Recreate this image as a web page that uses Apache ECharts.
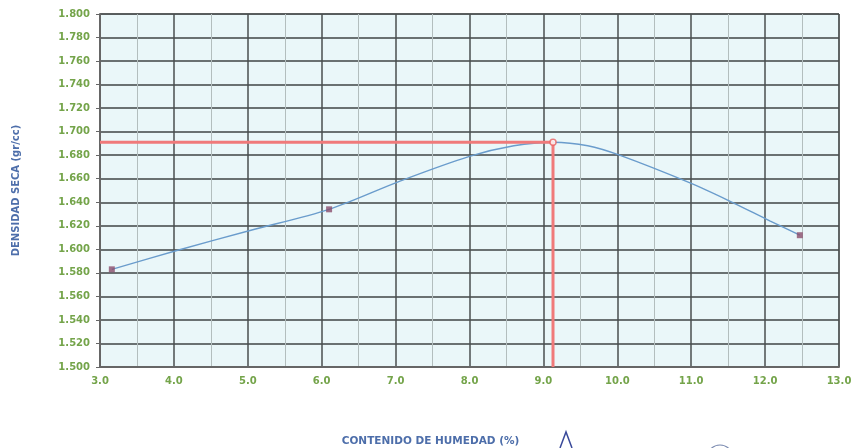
<!DOCTYPE html>
<html>
<head>
<meta charset="utf-8">
<script src="https://cdn.jsdelivr.net/npm/echarts@6/dist/echarts.min.js"></script>
<style>
html,body{margin:0;padding:0;background:#fff;}
#c{width:854px;height:448px;}
</style>
</head>
<body>
<div id="c"></div>
<script>
// Measured points
var moisture = [3.16, 6.10, 12.47];
var density = [1.583, 1.634, 1.612];
// Fitted compaction curve
var curveX = [3.16, 4.04, 5.03, 6.10, 7.06, 8.00, 8.60, 9.13, 9.60, 10.03, 11.00, 11.52, 12.07, 12.47];
var curveY = [1.583, 1.599, 1.616, 1.634, 1.658, 1.679, 1.688, 1.691, 1.688, 1.680, 1.656, 1.641, 1.624, 1.612];
// Optimum point
var optMoisture = 9.13;
var optDensity = 1.691;
// Axes
var xMin = 3, xMax = 13, xStep = 1;
var yMin = 1.5, yMax = 1.8, yStep = 0.02;
var xTitle = 'CONTENIDO DE HUMEDAD (%)';
var yTitle = 'DENSIDAD SECA (gr/cc)';

var chart = echarts.init(document.getElementById('c'));
var curve = curveX.map(function(x, i){ return [x, curveY[i]]; });
var pts = moisture.map(function(x, i){ return [x, density[i]]; });
var refLine = [[xMin, optDensity], [optMoisture, optDensity], [optMoisture, yMin]];

var labelColor = '#74a44a';
var titleColor = '#4d6eaa';
var font = 'DejaVu Sans';

chart.setOption({
  animation: false,
  backgroundColor: '#ffffff',
  grid: {left: 100, right: 15, top: 14, bottom: 81, containLabel: false, outerBoundsMode: 'none',
    show: true, backgroundColor: '#eaf7f9', borderColor: '#555', borderWidth: 1},
  xAxis: {
    type: 'value', min: xMin, max: xMax, interval: xStep,
    name: xTitle, nameLocation: 'middle', nameGap: 69,
    nameTextStyle: {color: titleColor, fontSize: 10.5, fontWeight: 'bold', fontFamily: font, padding: [0,78,0,0]},
    axisLine: {show: true, onZero: false, lineStyle: {color: '#666', width: 2}},
    axisTick: {show: false},
    axisLabel: {color: labelColor, fontSize: 10, fontWeight: 'bold', fontFamily: font, margin: 9,
      formatter: function(v){ return v.toFixed(1); }},
    splitLine: {show: true, lineStyle: {color: '#4a4f4f', width: 1.5}},
    minorTick: {show: false, splitNumber: 2},
    minorSplitLine: {show: true, lineStyle: {color: '#b3bebe', width: 1}}
  },
  yAxis: {
    type: 'value', min: yMin, max: yMax, interval: yStep,
    name: yTitle, nameLocation: 'middle', nameGap: 79, nameRotate: 90,
    nameTextStyle: {color: titleColor, fontSize: 10, fontWeight: 'bold', fontFamily: font},
    axisLine: {show: true, lineStyle: {color: '#666', width: 2}},
    axisTick: {show: true, length: 4, lineStyle: {color: '#666'}},
    axisLabel: {color: labelColor, fontSize: 10, fontWeight: 'bold', fontFamily: font, margin: 10,
      formatter: function(v){ return v.toFixed(3); }},
    splitLine: {show: true, lineStyle: {color: '#3f4444', width: 1.5}}
  },
  series: [
    {type: 'line', data: curve, smooth: 0.3, showSymbol: false, symbol: 'none',
      lineStyle: {color: '#6a9ccc', width: 1.4}, z: 3},
    {type: 'line', data: refLine, showSymbol: false, symbol: 'none',
      lineStyle: {color: '#f07a7a', width: 3}, z: 4},
    {type: 'scatter', data: [[optMoisture, optDensity]], symbol: 'circle', symbolSize: 6,
      itemStyle: {color: '#ffffff', borderColor: '#e86060', borderWidth: 1.5}, z: 6},
    {type: 'scatter', data: pts, symbol: 'rect', symbolSize: 6,
      itemStyle: {color: '#8a4c6c'}, z: 5}
  ],
  graphic: [
    {type: 'polyline', shape: {points: [[560, 448], [566, 432], [572, 448]]},
      style: {stroke: '#3a4a9a', lineWidth: 1.5, fill: 'none'}},
    {type: 'circle', shape: {cx: 720, cy: 458, r: 13},
      style: {stroke: '#7a8ab0', lineWidth: 1.2, fill: 'none'}}
  ]
});
</script>
</body>
</html>
